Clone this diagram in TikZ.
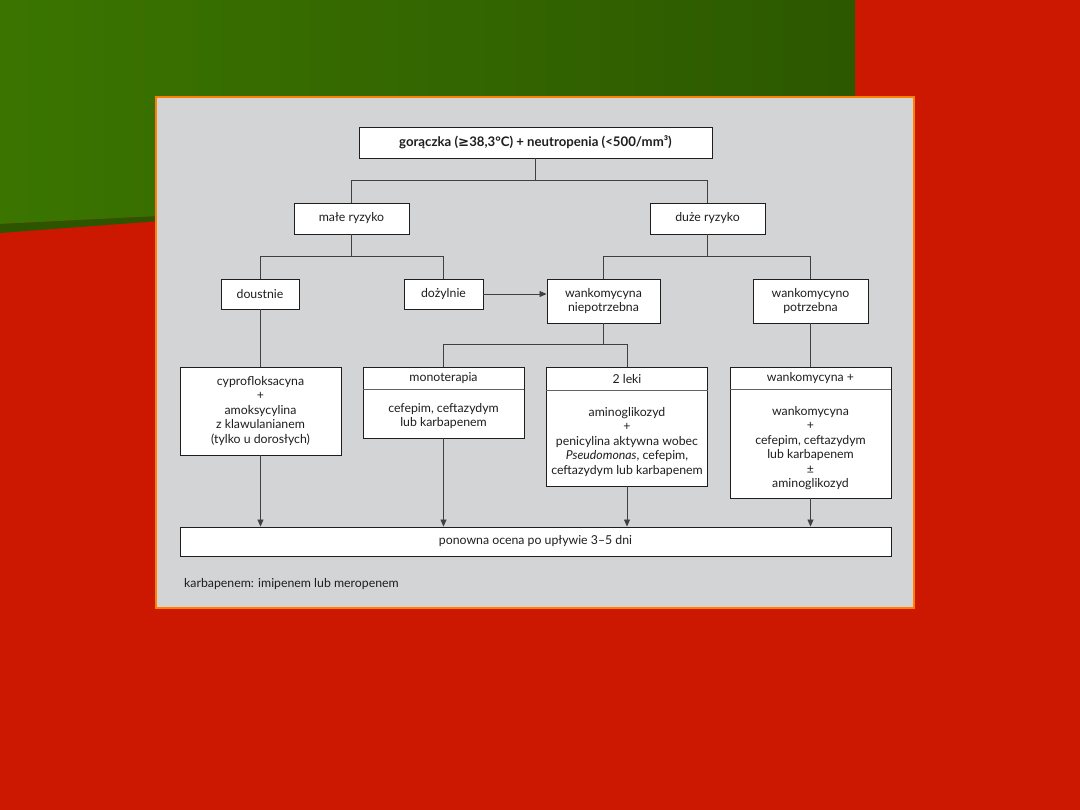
\documentclass[tikz,border=0pt]{standalone}
\usepackage{fontspec}
\setmainfont{Lato}
\newfontfamily\symfont{DejaVu Sans}
\usetikzlibrary{arrows.meta}
\definecolor{bgred}{RGB}{204,24,0}
\definecolor{greenL}{RGB}{59,117,0}
\definecolor{greenR}{RGB}{44,88,0}
\definecolor{greenD}{RGB}{45,85,0}
\definecolor{panelgrey}{RGB}{211,212,214}
\definecolor{panelborder}{RGB}{255,128,0}
\definecolor{ink}{RGB}{30,30,30}
\newcommand{\txt}{\fontsize{12.3}{14.5}\selectfont}
\newcommand{\toptxt}{\fontsize{13.2}{15}\selectfont\bfseries}
\tikzset{
  box/.style={draw=ink, fill=white, line width=0.9pt, inner sep=0pt, align=center, font=\txt, text=ink},
  lbl/.style={inner sep=0pt, align=center, font=\txt, text=ink},
  conn/.style={draw=ink!85, line width=0.8pt},
  arr/.style={conn, -{Triangle[length=7pt,width=6pt]}},
  sepline/.style={draw=ink!70, line width=0.6pt}
}
\begin{document}
\begin{tikzpicture}[x=1pt,y=-1pt]
\useasboundingbox (0,0) rectangle (1080,810);
% background
\fill[bgred] (0,0) rectangle (1080,810);
\shade[left color=greenL, right color=greenR] (0,0) -- (855,0) -- (855,200) -- (160,216) -- (0,224) -- cycle;
\fill[greenD] (0,224) -- (160,216) -- (160,221) -- (0,233) -- cycle;
% panel
\filldraw[fill=panelgrey, draw=panelborder, line width=1.2pt] (156,97) rectangle (914,608);

% nodes
\node[box, minimum width=353pt, minimum height=31pt, font=\toptxt] (top) at (535.5,142.5)
  {gorączka ({\symfont\bfseries ≥}38,3°C) + neutropenia (<500/mm³)};
\node[box, minimum width=115pt, minimum height=31pt] (male) at (351.5,218.5) {małe ryzyko};
\node[box, minimum width=115pt, minimum height=31pt] (duze) at (707.5,218.5) {duże ryzyko};
\node[box, minimum width=78pt, minimum height=30pt] (doustnie) at (260,294) {doustnie};
\node[box, minimum width=79pt, minimum height=30pt] (dozylnie) at (443.5,294) {dożylnie};
\node[box, minimum width=113pt, minimum height=44pt] (wnp) at (603.5,301) {wankomycyna\\niepotrzebna};
\node[box, minimum width=115pt, minimum height=44pt] (wp) at (810.5,301) {wankomycyno\\potrzebna};

\node[box, minimum width=161pt, minimum height=88pt] (cypro) at (260.5,411)
  {cyprofloksacyna\\+\\amoksycylina\\z klawulanianem\\(tylko u dorosłych)};

\node[box, minimum width=161pt, minimum height=71pt] (mono) at (443.5,402.5) {};
\node[lbl] (monoH) at (443.5,378.5) {monoterapia};
\node[lbl] (monoB) at (443.5,416) {cefepim, ceftazydym\\lub karbapenem};
\draw[sepline] (mono.north west) ++(0,23) coordinate (m1) -- (m1 -| mono.east);

\node[box, minimum width=161pt, minimum height=119pt] (dwa) at (627,426.5) {};
\node[lbl] (dwaH) at (627,379) {2 leki};
\node[lbl] (dwaB) at (627,442) {aminoglikozyd\\+\\penicylina aktywna wobec\\\textit{Pseudomonas}, cefepim,\\ceftazydym lub karbapenem};
\draw[sepline] (dwa.north west) ++(0,24) coordinate (d1) -- (d1 -| dwa.east);

\node[box, minimum width=161pt, minimum height=131pt] (wplus) at (810.5,432.5) {};
\node[lbl] (wplusH) at (810.5,378.5) {wankomycyna +};
\node[lbl] (wplusB) at (810.5,448) {wankomycyna\\+\\cefepim, ceftazydym\\lub karbapenem\\±\\aminoglikozyd};
\draw[sepline] (wplus.north west) ++(0,23) coordinate (w1) -- (w1 -| wplus.east);

\node[box, minimum width=711pt, minimum height=29pt] (bottom) at (535.5,541.5) {ponowna ocena po upływie 3–5 dni};

\node[lbl, anchor=west] (foot) at (184,584) {karbapenem: imipenem lub meropenem};

% connectors
\draw[conn] (top.south) -- ++(0,22) -| (male.north);
\draw[conn] (top.south) -- ++(0,22) -| (duze.north);
\draw[conn] (male.south) -- ++(0,22) -| (doustnie.north);
\draw[conn] (male.south) -- ++(0,22) -| (dozylnie.north);
\draw[conn] (duze.south) -- ++(0,22) -| (wnp.north);
\draw[conn] (duze.south) -- ++(0,22) -| (wp.north);
\draw[arr] (dozylnie.east) -- (dozylnie.east -| wnp.west);
\draw[conn] (wnp.south) -- ++(0,21) -| (mono.north);
\draw[conn] (wnp.south) -- ++(0,21) -| (dwa.north);
\draw[conn] (doustnie.south) -- (doustnie.south |- cypro.north);
\draw[conn] (wp.south) -- (wp.south |- wplus.north);
\draw[arr] (cypro.south) -- (cypro.south |- bottom.north);
\draw[arr] (mono.south) -- (mono.south |- bottom.north);
\draw[arr] (dwa.south) -- (dwa.south |- bottom.north);
\draw[arr] (wplus.south) -- (wplus.south |- bottom.north);
\end{tikzpicture}
\end{document}
